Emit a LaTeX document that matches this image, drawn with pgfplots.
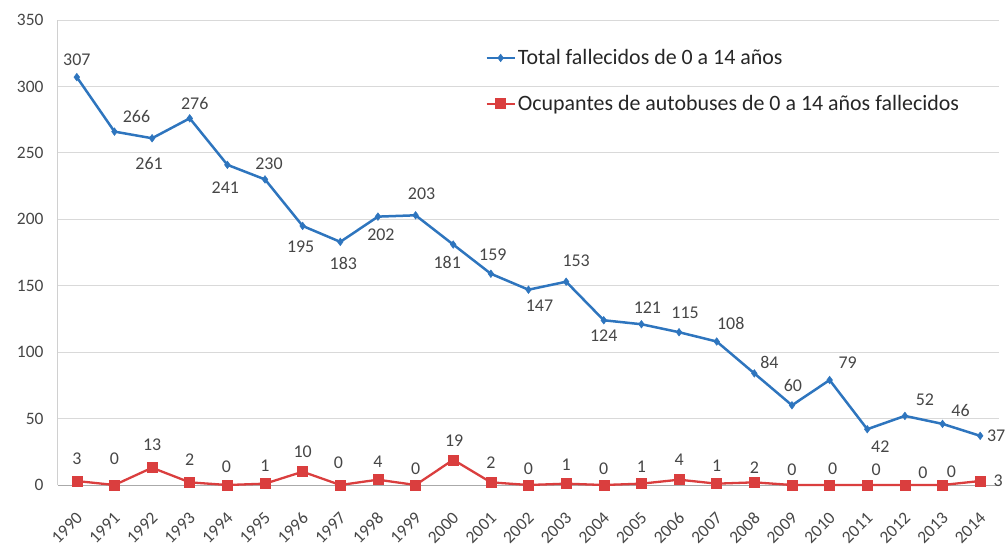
\documentclass[border=0pt]{standalone}
\usepackage{pgfplots}
\pgfplotsset{compat=1.18}
\usepackage{pgfplotstable}
\usepackage{fontspec}
\setmainfont{Carlito}
\definecolor{blueS}{RGB}{46,117,190}
\definecolor{redS}{RGB}{218,62,62}
\definecolor{txt}{RGB}{70,70,70}
\definecolor{legtxt}{RGB}{38,38,38}
\definecolor{gridc}{RGB}{217,217,217}
\definecolor{axisc}{RGB}{170,170,170}

\pgfplotstableread{
x y dx dy
0 307 0 17
1 266 22 15
2 261 -3 -25
3 276 5 15
4 241 -2 -23
5 230 4 16
6 195 -2 -21
7 183 3 -22
8 202 3 -18
9 203 6 22
10 181 -6 -18
11 159 2 19
12 147 11 -16
13 153 10 21
14 124 0 -15
15 121 6 17
16 115 6 19
17 108 14 18
18 84 15 11
19 60 1 20
20 79 18 17
21 42 13 -17
22 52 20 16
23 46 18 13
24 37 16 0
}\totaldata

\pgfplotstableread{
x y dx dy
0 3 0 22
1 0 0 26
2 13 0 23
3 2 0 23
4 0 -1 18
5 1 0 18
6 10 0 20
7 0 -2 22
8 4 0 18
9 0 0 16
10 19 1 19
11 2 0 20
12 0 0 16
13 1 0 19
14 0 0 16
15 1 0 17
16 4 0 20
17 1 0 18
18 2 0 15
19 0 0 15
20 0 3 16
21 0 9 15
22 0 18 12
23 0 9 13
24 3 18 0
}\busdata

\begin{document}
\begin{tikzpicture}
\begin{axis}[
  scale only axis, width=941bp, height=465bp,
  xmin=-0.5, xmax=24.5, ymin=0, ymax=350,
  ytick={0,50,...,350},
  xtick={0,...,24},
  xticklabels={1990,1991,1992,1993,1994,1995,1996,1997,1998,1999,2000,2001,2002,2003,2004,2005,2006,2007,2008,2009,2010,2011,2012,2013,2014},
  axis lines*=left,
  axis line style={draw=axisc, line width=1bp},
  y axis line style={draw=gridc!80!axisc},
  ymajorgrids, grid style={draw=gridc, line width=1bp},
  major tick length=0pt,
  /pgf/number format/assume math mode=true,
  ticklabel style={font=\fontsize{17.5}{20}\selectfont, text=txt},
  yticklabel style={xshift=-11bp},
  xticklabel style={xshift=5bp, yshift=-28bp, rotate=45, anchor=east},
  clip=false,
  point meta=y,
  nodes near coords,
  visualization depends on={\thisrow{dx}\as\dx},
  visualization depends on={\thisrow{dy}\as\dy},
  nodes near coords style={anchor=center, xshift=\dx bp, yshift=\dy bp, font=\fontsize{18}{21}\selectfont, text=txt, inner sep=0pt},
  legend style={at={(rel axis cs:0.454,0.941)}, anchor=north west, draw=none, fill=none,
    font=\fontsize{22}{26}\selectfont, text=legtxt, row sep=25bp, inner sep=0pt,
    cells={anchor=west}, /tikz/every even column/.append style={column sep=1bp}},
  legend cell align=left,
  legend image code/.code={\draw[#1, mark repeat=2, mark phase=2] plot coordinates {(0bp,0bp) (14bp,0bp) (28bp,0bp)};},
]
\addplot[color=blueS, line width=2.5bp, mark=diamond*, mark size=3.8bp, mark options={fill=blueS, draw=blueS, line width=0.5bp}]
  table[x=x, y=y] {\totaldata};
\addlegendentry{Total fallecidos de 0 a 14 años}
\addplot[color=redS, line width=2.3bp, mark=square*, mark size=5bp, mark options={fill=redS, draw=redS, line width=0.5bp}]
  table[x=x, y=y] {\busdata};
\addlegendentry{Ocupantes de autobuses de 0 a 14 años fallecidos}
\coordinate (bbSW) at (rel axis cs:-0.061636,-0.131183);
\coordinate (bbNE) at (rel axis cs:1.007439,1.043011);
\end{axis}
\pgfresetboundingbox
\path (bbSW) rectangle (bbNE);
\end{tikzpicture}
\end{document}
